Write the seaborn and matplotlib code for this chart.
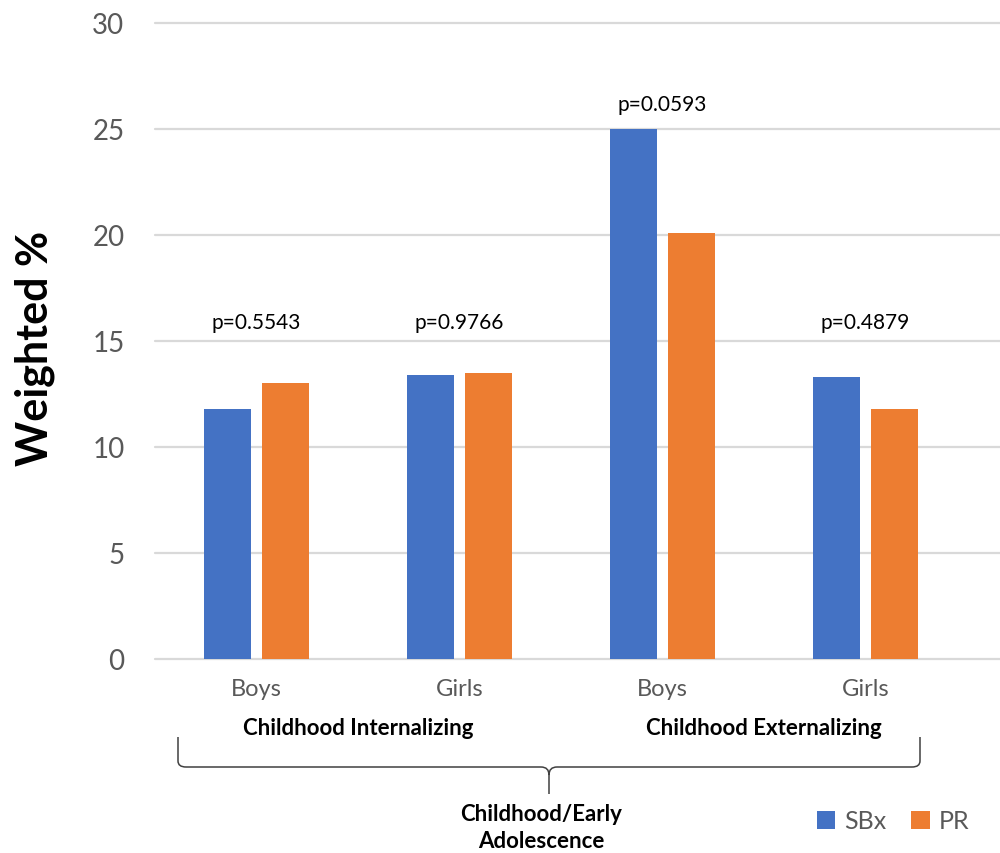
import numpy as np
import pandas as pd
import matplotlib
matplotlib.use("Agg")
import matplotlib.pyplot as plt
import matplotlib.transforms as mtrans
import seaborn as sns
from matplotlib.path import Path
from matplotlib.patches import PathPatch

# ---------------- data ----------------
categories = ["Boys", "Girls", "Boys", "Girls"]
groups = ["Childhood Internalizing", "Childhood Internalizing",
          "Childhood Externalizing", "Childhood Externalizing"]
sbx_values = [11.8, 13.4, 25.0, 13.3]
pr_values = [13.0, 13.5, 20.1, 11.8]
p_labels = ["p=0.5543", "p=0.9766", "p=0.0593", "p=0.4879"]
series_names = ["SBx", "PR"]
super_group = "Childhood/Early\nAdolescence"
y_label = "Weighted %"

# ---------------- frame ----------------
keys = [f"{g}|{c}" for g, c in zip(groups, categories)]
df = pd.DataFrame({
    "key": keys * 2,
    "series": [series_names[0]] * 4 + [series_names[1]] * 4,
    "value": sbx_values + pr_values,
})

sns.set_theme(style="white")
plt.rcParams["font.family"] = ["Lato", "DejaVu Sans"]

W, H = 1000, 854
fig = plt.figure(figsize=(W / 100, H / 100), dpi=100)
ax = fig.add_axes([155 / W, 1 - 660 / H, 1 - 155 / W, (660 - 24) / H])

palette = {"SBx": "#4472C4", "PR": "#ED7D31"}
sns.barplot(data=df, x="key", y="value", hue="series", order=keys,
            hue_order=series_names, palette=palette, width=0.571, gap=0.205,
            linewidth=0, saturation=1, ax=ax, legend=True)

ax.set_ylim(0, 30)
ax.set_xlim(-0.5, -0.5 + (W - 155) / 203)
ax.set_yticks(np.arange(0, 31, 5))
ax.set_xticks(range(len(keys)))
ax.set_xticklabels(categories)
ax.set_xlabel("")
ax.set_ylabel("")
for s in ax.spines.values():
    s.set_visible(False)
ax.yaxis.grid(True, color="#D9D9D9", linewidth=1.6)
ax.set_axisbelow(True)
for gl in ax.get_ygridlines():
    gl.set_clip_on(False)
ax.tick_params(axis="y", length=0, pad=22, labelsize=20, labelcolor="#595959")
ax.tick_params(axis="x", length=0, pad=14, labelsize=17, labelcolor="#595959")

# p-value annotations
for i, lab in enumerate(p_labels):
    top = max(sbx_values[i], pr_values[i])
    y = 15.9 if top < 15 else top + 1.2
    ax.text(i, y, lab, ha="center", va="center", fontsize=15, color="#000000")

# group labels
blend = mtrans.blended_transform_factory(ax.transData, fig.transFigure)
for g in ["Childhood Internalizing", "Childhood Externalizing"]:
    idx = [i for i, gg in enumerate(groups) if gg == g]
    xc = np.mean(idx)
    ax.text(xc, 1 - 729 / H, g, transform=blend, ha="center", va="center",
            fontsize=16, fontweight="bold", color="#000000")

# brace
def P(x, y):
    return (x / W, 1 - y / H)

verts = [P(178, 738), P(178, 762), P(178, 768), P(186, 768), P(541, 768),
         P(549, 768), P(549, 776), P(549, 795),
         P(549, 776), P(549, 768), P(557, 768), P(912, 768),
         P(920, 768), P(920, 762), P(920, 738)]
codes = [Path.MOVETO, Path.LINETO, Path.CURVE3, Path.CURVE3, Path.LINETO,
         Path.CURVE3, Path.CURVE3, Path.LINETO,
         Path.MOVETO, Path.CURVE3, Path.CURVE3, Path.LINETO,
         Path.CURVE3, Path.CURVE3, Path.LINETO]
fig.add_artist(PathPatch(Path(verts, codes), transform=fig.transFigure,
                         facecolor="none", edgecolor="#404040", linewidth=1.1))

fig.text(541 / W, 1 - 828 / H, super_group, ha="center", va="center",
         fontsize=16, fontweight="bold", color="#000000", linespacing=1.3)

# y label
fig.text(35 / W, 1 - 348 / H, y_label, rotation=90, ha="center", va="center",
         fontsize=31, fontweight="bold", color="#000000")

# legend
handles, labels = ax.get_legend_handles_labels()
ax.get_legend().remove()
fig.legend(handles, labels, loc="center", bbox_to_anchor=(893 / W, 1 - 822 / H),
           ncol=2, frameon=False, fontsize=18, handlelength=0.75,
           handleheight=0.75, handletextpad=0.35, columnspacing=1.0,
           labelcolor="#595959")

fig.savefig("out.png", dpi=100)
